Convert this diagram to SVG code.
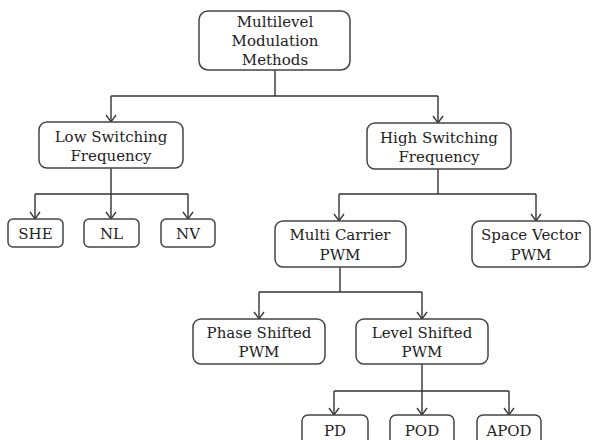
<svg xmlns="http://www.w3.org/2000/svg" width="592" height="440" viewBox="0 0 592 440">
<defs>
<marker id="arr" markerWidth="12" markerHeight="12" refX="6" refY="10" orient="0" markerUnits="userSpaceOnUse">
<polyline points="1,3 6,10 11,3" fill="none" stroke="#333" stroke-width="1.3"/>
</marker>
<style>
.box{fill:#fff;stroke:#444;stroke-width:1.5}
.t{font-family:"DejaVu Serif","Liberation Serif",serif;font-size:15px;fill:#222;text-anchor:middle}
.c{fill:none;stroke:#333;stroke-width:1.4}
</style>
</defs>
<rect width="592" height="440" fill="#fff"/>
<g id="connectors">
<path class="c" d="M275 70 V96 M111 96 H438"/>
<path class="c" d="M111 96 V122" marker-end="url(#arr)"/>
<path class="c" d="M438 96 V123" marker-end="url(#arr)"/>
<path class="c" d="M111 168 V194 M35 194 H188"/>
<path class="c" d="M35 194 V219" marker-end="url(#arr)"/>
<path class="c" d="M111 194 V219" marker-end="url(#arr)"/>
<path class="c" d="M188 194 V219" marker-end="url(#arr)"/>
<path class="c" d="M438 169 V194 M339 194 H536"/>
<path class="c" d="M339 194 V221" marker-end="url(#arr)"/>
<path class="c" d="M536 194 V221" marker-end="url(#arr)"/>
<path class="c" d="M340 267 V292 M259 292 H422"/>
<path class="c" d="M259 292 V319" marker-end="url(#arr)"/>
<path class="c" d="M422 292 V319" marker-end="url(#arr)"/>
<path class="c" d="M422 364 V391 M334 391 H509"/>
<path class="c" d="M334 391 V415" marker-end="url(#arr)"/>
<path class="c" d="M422 391 V415" marker-end="url(#arr)"/>
<path class="c" d="M509 391 V415" marker-end="url(#arr)"/>
</g>
<g id="root"><rect class="box" x="199" y="11" width="151" height="59" rx="9"/>
<text class="t" x="275" y="27">Multilevel</text><text class="t" x="275" y="46">Modulation</text><text class="t" x="275" y="65">Methods</text></g>
<g id="low"><rect class="box" x="39" y="122" width="144" height="46" rx="8"/>
<text class="t" x="111" y="142">Low Switching</text><text class="t" x="111" y="161">Frequency</text></g>
<g id="high"><rect class="box" x="367" y="123" width="144" height="46" rx="8"/>
<text class="t" x="439" y="143">High Switching</text><text class="t" x="439" y="162">Frequency</text></g>
<g id="she"><rect class="box" x="8" y="219" width="55" height="28" rx="5"/><text class="t" x="35.500" y="239">SHE</text></g>
<g id="nl"><rect class="box" x="84" y="219" width="55" height="28" rx="5"/><text class="t" x="111.500" y="239">NL</text></g>
<g id="nv"><rect class="box" x="161" y="219" width="54" height="28" rx="5"/><text class="t" x="188" y="239">NV</text></g>
<g id="multicarrier"><rect class="box" x="275" y="221" width="131" height="46" rx="8"/>
<text class="t" x="340" y="240">Multi Carrier</text><text class="t" x="340" y="260">PWM</text></g>
<g id="spacevector"><rect class="box" x="472" y="221" width="118" height="46" rx="8"/>
<text class="t" x="531" y="240">Space Vector</text><text class="t" x="531" y="260">PWM</text></g>
<g id="phaseshifted"><rect class="box" x="193" y="319" width="132" height="45" rx="8"/>
<text class="t" x="259" y="338">Phase Shifted</text><text class="t" x="259" y="357">PWM</text></g>
<g id="levelshifted"><rect class="box" x="356" y="319" width="132" height="45" rx="8"/>
<text class="t" x="422" y="338">Level Shifted</text><text class="t" x="422" y="357">PWM</text></g>
<g id="pd"><rect class="box" x="302" y="415" width="66" height="40" rx="6"/><text class="t" x="335" y="436">PD</text></g>
<g id="pod"><rect class="box" x="390" y="415" width="64" height="40" rx="6"/><text class="t" x="422" y="436">POD</text></g>
<g id="apod"><rect class="box" x="477" y="415" width="64" height="40" rx="6"/><text class="t" x="509" y="436">APOD</text></g>
</svg>
